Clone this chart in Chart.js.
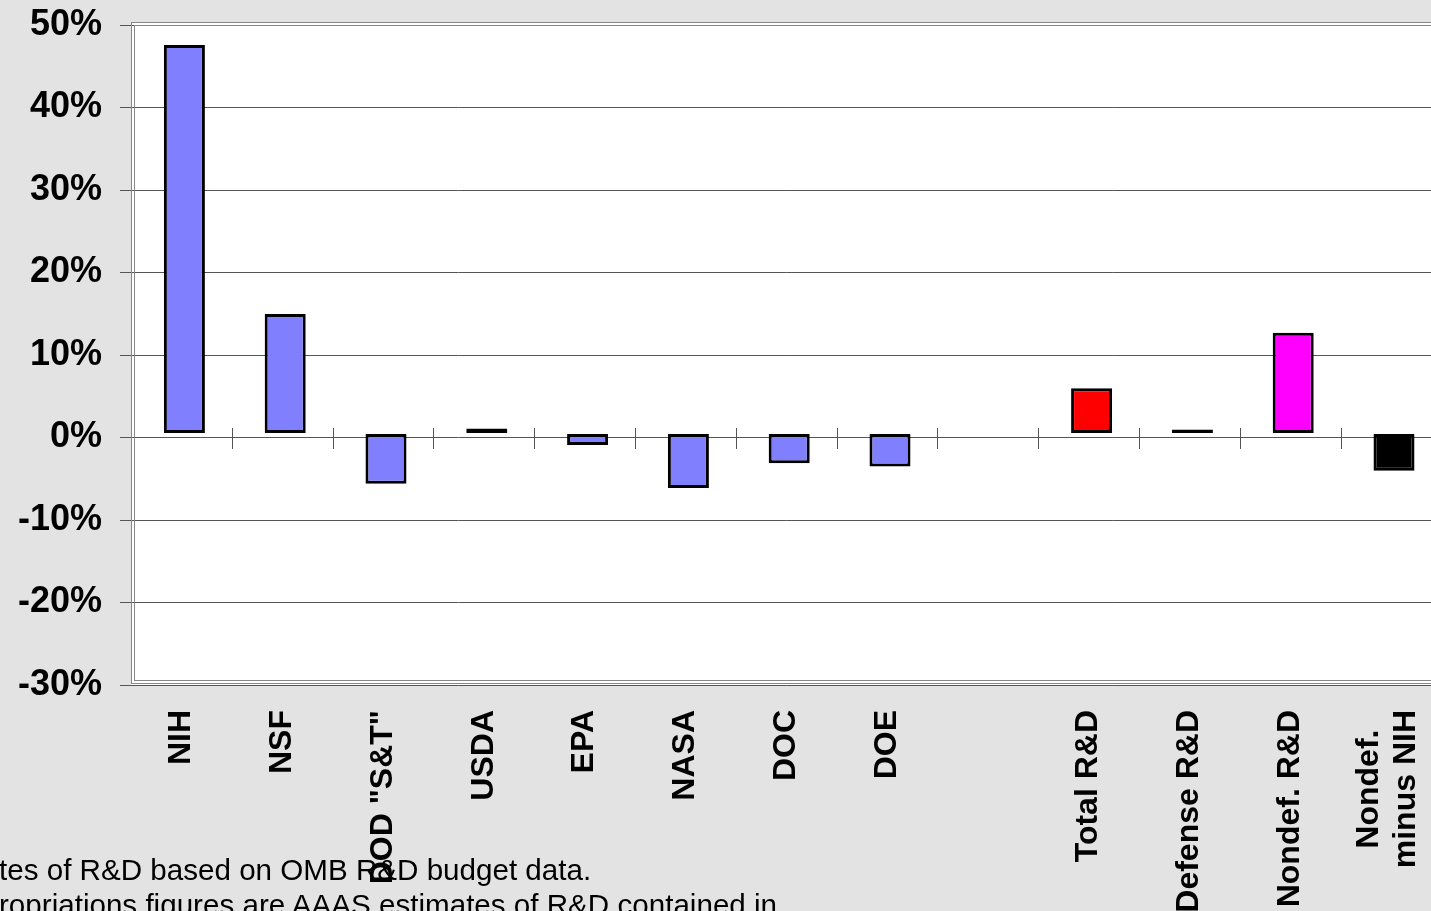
<!DOCTYPE html>
<html>
<head>
<meta charset="utf-8">
<script src="https://cdn.jsdelivr.net/npm/chart.js@4"></script>
<style>
    body { margin: 0; background: #e3e3e3; overflow: hidden; width: 1431px; height: 911px; }
    #wrap { position: absolute; left: 0; top: 0; width: 1445px; height: 911px; }
    #notes {
        position: absolute; left: -1px; top: 852px;
        font-family: Arial, "Liberation Sans", sans-serif;
        font-size: 29.6px; line-height: 35px; color: #000; white-space: nowrap;
    }
</style>
</head>
<body>
<div id="wrap"><canvas id="chart"></canvas></div>
<div id="notes">
    <div>tes of R&amp;D based on OMB R&amp;D budget data.</div>
    <div>ropriations figures are AAAS estimates of R&amp;D contained in</div>
</div>
<script>
/* =========================
   DATA
========================= */

const categories = [
    "NIH", "NSF", 'DOD "S&T"', "USDA", "EPA", "NASA", "DOC", "DOE", "",
    "Total R&D", "Defense R&D", "Nondef. R&D", ["Nondef.", "minus NIH"]
];

const changes = [47.1, 14.5, -6.1, 0.6, -1.4, -6.6, -3.6, -4.0, null, 5.5, 0.5, 12.2, -4.5];

const barColors = [
    "#8080ff", "#8080ff", "#8080ff", "#8080ff", "#8080ff", "#8080ff", "#8080ff", "#8080ff", "#8080ff",
    "#ff0000", "#000000", "#ff00ff", "#000000"
];

const yTicks = { min: -30, max: 50, step: 10 };

const fontFamily = 'Arial, "Liberation Sans", sans-serif';
const labelFont = "bold 32px " + fontFamily;

/* =========================
   PLOT AREA, ZERO-LINE TICKS, TWO-LINE LABEL
========================= */

const plotFrame = {
    id: "plotFrame",
    beforeDraw(chart) {
        const { ctx, chartArea: a } = chart;
        ctx.save();
        ctx.fillStyle = "#ffffff";
        ctx.fillRect(a.left, a.top - 3, a.right - a.left, a.bottom - a.top + 3);
        ctx.restore();
    },
    // Excel drew the bars a few pixels off the category centre / zero line
    beforeDatasetsDraw(chart) {
        chart.ctx.save();
        chart.ctx.translate(3, -4);
    },
    afterDatasetsDraw(chart) {
        chart.ctx.restore();
    },
    afterDraw(chart) {
        const { ctx, chartArea: a } = chart;
        const x = chart.scales.x;
        const y = chart.scales.y;

        ctx.save();
        ctx.strokeStyle = "#888";
        ctx.lineWidth = 1;
        // double border
        ctx.strokeRect(a.left + 0.5, a.top - 2.5, a.right - a.left + 10, a.bottom - a.top + 1);
        ctx.strokeRect(a.left + 3.5, a.top + 0.5, a.right - a.left + 10, a.bottom - a.top - 5);

        // cross ticks on the zero line between categories
        const y0 = Math.round(y.getPixelForValue(0));
        ctx.strokeStyle = "#555";
        ctx.beginPath();
        for (let i = 1; i < categories.length; i++) {
            const px = Math.round((x.getPixelForValue(i - 1) + x.getPixelForValue(i)) / 2) + 0.5;
            ctx.moveTo(px, y0 - 10);
            ctx.lineTo(px, y0 + 11);
        }
        ctx.stroke();

        // multi-line category labels, lines centred on each other
        ctx.font = labelFont;
        ctx.fillStyle = "#000";
        ctx.textAlign = "center";
        ctx.textBaseline = "middle";
        const lh = 37;
        categories.forEach((label, i) => {
            if (!Array.isArray(label)) return;
            const widest = Math.max(...label.map(t => ctx.measureText(t).width));
            const cx = x.getPixelForValue(i) - 3;
            const cy = a.bottom + 25 + widest / 2;
            label.forEach((t, k) => {
                ctx.save();
                ctx.translate(cx + (k - (label.length - 1) / 2) * lh, cy);
                ctx.rotate(-Math.PI / 2);
                ctx.fillText(t, 0, 0);
                ctx.restore();
            });
        });
        ctx.restore();
    }
};

/* =========================
   CHART
========================= */

new Chart(document.getElementById("chart"), {
    type: "bar",
    data: {
        labels: categories,
        datasets: [{
            data: changes,
            backgroundColor: barColors,
            borderColor: "#000",
            borderWidth: 3,
            borderSkipped: false,
            barPercentage: 0.407,
            categoryPercentage: 1
        }]
    },
    options: {
        responsive: true,
        maintainAspectRatio: false,
        animation: false,
        layout: { padding: { left: 0, top: 25, right: 3.6, bottom: 0 } },
        plugins: {
            legend: { display: false },
            tooltip: { enabled: false }
        },
        scales: {
            x: {
                grid: { display: false, drawTicks: false },
                border: { display: false },
                afterFit(scale) {
                    scale.height = 226;
                    scale.paddingLeft = 0;
                    scale.paddingRight = 0;
                },
                ticks: {
                    autoSkip: false,
                    minRotation: 90,
                    maxRotation: 90,
                    padding: 25,
                    color: "#000",
                    font: { family: fontFamily, size: 32, weight: "bold" },
                    callback(value) {
                        const label = this.getLabelForValue(value);
                        return Array.isArray(label) ? "" : label;
                    }
                }
            },
            y: {
                min: yTicks.min,
                max: yTicks.max,
                afterFit(scale) {
                    scale.width = 131;
                    scale.paddingTop = 0;
                    scale.paddingBottom = 0;
                },
                grid: { color: "#555", tickLength: 11, lineWidth: 1 },
                border: { display: false },
                ticks: {
                    stepSize: yTicks.step,
                    padding: 18,
                    color: "#000",
                    font: { family: fontFamily, size: 36, weight: "bold" },
                    callback: v => v + "%"
                }
            }
        }
    },
    plugins: [plotFrame]
});
</script>
</body>
</html>
